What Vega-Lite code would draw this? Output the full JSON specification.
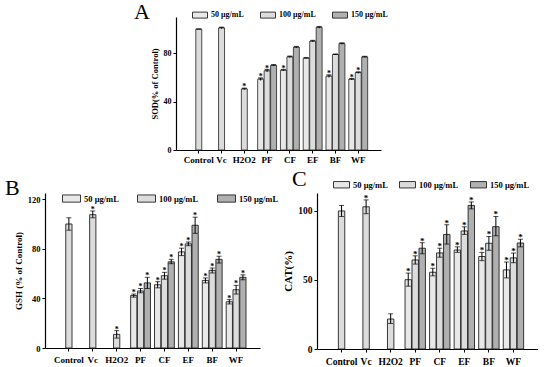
{
  "$schema": "https://vega.github.io/schema/vega-lite/v6.json",
  "padding": {"left": 5, "top": 1, "right": 0, "bottom": 0},
  "background": "white",
  "spacing": 4,
  "datasets": {
    "sod": [
      {"cat": "Control", "conc": "100 μg/mL", "v": 100, "lo": 100, "hi": 100, "s": ""},
      {"cat": "Vc", "conc": "100 μg/mL", "v": 101, "lo": 100.4, "hi": 101.4, "s": ""},
      {"cat": "H2O2", "conc": "100 μg/mL", "v": 50.5, "lo": 50, "hi": 51, "s": "*"},
      {"cat": "PF", "conc": "50 μg/mL", "v": 58.5, "lo": 57.5, "hi": 59.5, "s": "*"},
      {"cat": "PF", "conc": "100 μg/mL", "v": 65.5, "lo": 64.5, "hi": 66.5, "s": "*"},
      {"cat": "PF", "conc": "150 μg/mL", "v": 70, "lo": 69.5, "hi": 70.5, "s": ""},
      {"cat": "CF", "conc": "50 μg/mL", "v": 66, "lo": 65.5, "hi": 66.5, "s": "*"},
      {"cat": "CF", "conc": "100 μg/mL", "v": 77, "lo": 76.5, "hi": 77.5, "s": ""},
      {"cat": "CF", "conc": "150 μg/mL", "v": 85, "lo": 84.5, "hi": 85.5, "s": ""},
      {"cat": "EF", "conc": "50 μg/mL", "v": 76, "lo": 75.8, "hi": 76.2, "s": ""},
      {"cat": "EF", "conc": "100 μg/mL", "v": 90, "lo": 89.5, "hi": 90.5, "s": ""},
      {"cat": "EF", "conc": "150 μg/mL", "v": 101.5, "lo": 100.8, "hi": 102, "s": ""},
      {"cat": "BF", "conc": "50 μg/mL", "v": 61, "lo": 60, "hi": 62, "s": "*"},
      {"cat": "BF", "conc": "100 μg/mL", "v": 79, "lo": 78.8, "hi": 79.2, "s": ""},
      {"cat": "BF", "conc": "150 μg/mL", "v": 88, "lo": 87.5, "hi": 88.5, "s": ""},
      {"cat": "WF", "conc": "50 μg/mL", "v": 58.5, "lo": 58, "hi": 59, "s": "*"},
      {"cat": "WF", "conc": "100 μg/mL", "v": 64, "lo": 63.5, "hi": 64.5, "s": "*"},
      {"cat": "WF", "conc": "150 μg/mL", "v": 77, "lo": 76.7, "hi": 77.3, "s": ""}
    ],
    "gsh": [
      {"cat": "Control", "conc": "100 μg/mL", "v": 100, "lo": 95, "hi": 105, "s": ""},
      {"cat": "Vc", "conc": "100 μg/mL", "v": 107.5, "lo": 105, "hi": 110.5, "s": "*"},
      {"cat": "H2O2", "conc": "100 μg/mL", "v": 11, "lo": 8, "hi": 14, "s": "*"},
      {"cat": "PF", "conc": "50 μg/mL", "v": 42.3, "lo": 41, "hi": 43.5, "s": "*"},
      {"cat": "PF", "conc": "100 μg/mL", "v": 46, "lo": 44.5, "hi": 48, "s": "*"},
      {"cat": "PF", "conc": "150 μg/mL", "v": 52.5, "lo": 48, "hi": 57, "s": "*"},
      {"cat": "CF", "conc": "50 μg/mL", "v": 51, "lo": 48.5, "hi": 53.5, "s": "*"},
      {"cat": "CF", "conc": "100 μg/mL", "v": 58.3, "lo": 55.5, "hi": 61, "s": "*"},
      {"cat": "CF", "conc": "150 μg/mL", "v": 69.5, "lo": 68, "hi": 71.5, "s": "*"},
      {"cat": "EF", "conc": "50 μg/mL", "v": 77.5, "lo": 74.5, "hi": 80.5, "s": "*"},
      {"cat": "EF", "conc": "100 μg/mL", "v": 84, "lo": 82.5, "hi": 85.5, "s": "*"},
      {"cat": "EF", "conc": "150 μg/mL", "v": 99, "lo": 92.5, "hi": 105.5, "s": "*"},
      {"cat": "BF", "conc": "50 μg/mL", "v": 54.5, "lo": 52.5, "hi": 56.5, "s": "*"},
      {"cat": "BF", "conc": "100 μg/mL", "v": 62.6, "lo": 60.5, "hi": 64.5, "s": "*"},
      {"cat": "BF", "conc": "150 μg/mL", "v": 71.5, "lo": 68.5, "hi": 74, "s": "*"},
      {"cat": "WF", "conc": "50 μg/mL", "v": 37.3, "lo": 35.5, "hi": 39, "s": "*"},
      {"cat": "WF", "conc": "100 μg/mL", "v": 47, "lo": 43.5, "hi": 50.5, "s": "*"},
      {"cat": "WF", "conc": "150 μg/mL", "v": 57, "lo": 55, "hi": 59, "s": "*"}
    ],
    "cat": [
      {"cat": "Control", "conc": "100 μg/mL", "v": 100, "lo": 96, "hi": 104, "s": ""},
      {"cat": "Vc", "conc": "100 μg/mL", "v": 103, "lo": 98, "hi": 108, "s": "*"},
      {"cat": "H2O2", "conc": "100 μg/mL", "v": 21.7, "lo": 18.5, "hi": 25.5, "s": ""},
      {"cat": "PF", "conc": "50 μg/mL", "v": 50.2, "lo": 45.5, "hi": 55, "s": "*"},
      {"cat": "PF", "conc": "100 μg/mL", "v": 64.5, "lo": 61.5, "hi": 67.5, "s": "*"},
      {"cat": "PF", "conc": "150 μg/mL", "v": 73, "lo": 69, "hi": 77, "s": "*"},
      {"cat": "CF", "conc": "50 μg/mL", "v": 55.6, "lo": 53, "hi": 58.5, "s": "*"},
      {"cat": "CF", "conc": "100 μg/mL", "v": 69.6, "lo": 66.5, "hi": 73, "s": "*"},
      {"cat": "CF", "conc": "150 μg/mL", "v": 83, "lo": 76, "hi": 90, "s": "*"},
      {"cat": "EF", "conc": "50 μg/mL", "v": 71.7, "lo": 70, "hi": 74, "s": "*"},
      {"cat": "EF", "conc": "100 μg/mL", "v": 85.5, "lo": 83, "hi": 88.5, "s": "*"},
      {"cat": "EF", "conc": "150 μg/mL", "v": 104, "lo": 101.5, "hi": 106.5, "s": "*"},
      {"cat": "BF", "conc": "50 μg/mL", "v": 67, "lo": 64, "hi": 70, "s": "*"},
      {"cat": "BF", "conc": "100 μg/mL", "v": 76.6, "lo": 71.5, "hi": 81.5, "s": "*"},
      {"cat": "BF", "conc": "150 μg/mL", "v": 88.6, "lo": 82, "hi": 96, "s": "*"},
      {"cat": "WF", "conc": "50 μg/mL", "v": 57.3, "lo": 51.5, "hi": 63, "s": "*"},
      {"cat": "WF", "conc": "100 μg/mL", "v": 66, "lo": 62.5, "hi": 69.5, "s": "*"},
      {"cat": "WF", "conc": "150 μg/mL", "v": 76.8, "lo": 74, "hi": 79.5, "s": "*"}
    ],
    "blank": [{"t": ""}]
  },
  "resolve": {"scale": {"color": "independent", "x": "independent", "y": "independent", "xOffset": "independent"}, "legend": {"color": "independent"}},
  "vconcat": [
    {
      "spacing": 10,
      "resolve": {"scale": {"color": "independent", "x": "independent", "y": "independent", "xOffset": "independent"}, "legend": {"color": "independent"}},
      "hconcat": [
        {
          "width": 79, "height": 133,
          "data": {"name": "blank"},
          "mark": {"type": "text"},
          "encoding": {"text": {"field": "t"}}
        },
        {
          "width": 205, "height": 133,
          "title": {"text": "A", "anchor": "start", "frame": "group", "dx": -42, "dy": 21, "fontSize": 22, "font": "Liberation Serif", "fontWeight": "normal"},
          "data": {"name": "sod"},
          "encoding": {
            "x": {"field": "cat", "type": "nominal", "sort": ["Control", "Vc", "H2O2", "PF", "CF", "EF", "BF", "WF"], "scale": {"paddingInner": 0.17, "paddingOuter": 0.585}, "axis": {"title": null, "labelAngle": 0, "labelFontSize": 9}},
            "xOffset": {"field": "conc", "type": "nominal", "sort": ["50 μg/mL", "100 μg/mL", "150 μg/mL"], "scale": {"paddingInner": 0.08}}
          },
          "layer": [
            {
              "mark": {"type": "bar", "stroke": "#222222", "strokeWidth": 0.8},
              "encoding": {
                "y": {"field": "v", "type": "quantitative", "title": "SOD(% of Control)", "scale": {"domain": [0, 110], "nice": false}, "axis": {"values": [0, 20, 40, 60, 80, 100], "titleFontSize": 8.5, "labelFontSize": 8}},
                "color": {"field": "conc", "type": "nominal", "scale": {"domain": ["50 μg/mL", "100 μg/mL", "150 μg/mL"], "range": ["#e8e8e8", "#dcdcdc", "#b0b0b0"]},
                  "legend": {"orient": "none", "legendX": 16, "legendY": -10, "direction": "horizontal", "title": null, "columnPadding": 14, "labelFontSize": 8}}
              }
            },
            {
              "mark": {"type": "rule", "color": "black", "strokeWidth": 1},
              "encoding": {"y": {"field": "lo", "type": "quantitative", "title": "SOD(% of Control)"}, "y2": {"field": "hi"}}
            },
            {
              "mark": {"type": "tick", "color": "black", "size": 5, "thickness": 1.5, "orient": "horizontal"},
              "encoding": {"y": {"field": "hi", "type": "quantitative", "title": "SOD(% of Control)"}}
            },
            {
              "mark": {"type": "text", "font": "Liberation Serif", "fontSize": 8, "fontWeight": "bold", "baseline": "bottom", "dy": 3},
              "encoding": {"y": {"field": "hi", "type": "quantitative", "title": "SOD(% of Control)"}, "text": {"field": "s"}}
            }
          ]
        }
      ]
    },
    {
      "spacing": 3,
      "resolve": {"scale": {"color": "independent", "x": "independent", "y": "independent", "xOffset": "independent"}, "legend": {"color": "independent"}},
      "hconcat": [
        {
          "width": 215, "height": 155,
          "title": {"text": "B", "anchor": "start", "frame": "group", "dx": -40, "dy": 15, "fontSize": 22, "font": "Liberation Serif", "fontWeight": "normal"},
          "data": {"name": "gsh"},
          "encoding": {
            "x": {"field": "cat", "type": "nominal", "sort": ["Control", "Vc", "H2O2", "PF", "CF", "EF", "BF", "WF"], "scale": {"paddingInner": 0.17, "paddingOuter": 0.585}, "axis": {"title": null, "labelAngle": 0, "labelFontSize": 9, "labelPadding": 4}},
            "xOffset": {"field": "conc", "type": "nominal", "sort": ["50 μg/mL", "100 μg/mL", "150 μg/mL"], "scale": {"paddingInner": 0.08}}
          },
          "layer": [
            {
              "mark": {"type": "bar", "stroke": "#222222", "strokeWidth": 0.9},
              "encoding": {
                "y": {"field": "v", "type": "quantitative", "title": "GSH (% of Control)", "scale": {"domain": [0, 125], "nice": false}, "axis": {"values": [0, 20, 40, 60, 80, 100, 120], "titleFontSize": 9, "labelFontSize": 8.5}},
                "color": {"field": "conc", "type": "nominal", "scale": {"domain": ["50 μg/mL", "100 μg/mL", "150 μg/mL"], "range": ["#e8e8e8", "#dcdcdc", "#b0b0b0"]},
                  "legend": {"orient": "none", "legendX": 17, "legendY": -4, "direction": "horizontal", "title": null, "columnPadding": 16, "labelFontSize": 8.5, "symbolSize": 324}}
              }
            },
            {
              "mark": {"type": "rule", "color": "black", "strokeWidth": 1},
              "encoding": {"y": {"field": "lo", "type": "quantitative", "title": "GSH (% of Control)"}, "y2": {"field": "hi"}}
            },
            {
              "mark": {"type": "tick", "color": "black", "size": 5, "thickness": 1, "orient": "horizontal"},
              "encoding": {"y": {"field": "hi", "type": "quantitative", "title": "GSH (% of Control)"}}
            },
            {
              "mark": {"type": "tick", "color": "black", "size": 5, "thickness": 1, "orient": "horizontal"},
              "encoding": {"y": {"field": "lo", "type": "quantitative", "title": "GSH (% of Control)"}}
            },
            {
              "mark": {"type": "text", "font": "Liberation Serif", "fontSize": 8, "fontWeight": "bold", "baseline": "bottom", "dy": 3},
              "encoding": {"y": {"field": "hi", "type": "quantitative", "title": "GSH (% of Control)"}, "text": {"field": "s"}}
            }
          ]
        },
        {
          "width": 221, "height": 156,
          "title": {"text": "C", "anchor": "start", "frame": "group", "dx": -25, "dy": 19, "fontSize": 22, "font": "Liberation Serif", "fontWeight": "normal"},
          "data": {"name": "cat"},
          "encoding": {
            "x": {"field": "cat", "type": "nominal", "sort": ["Control", "Vc", "H2O2", "PF", "CF", "EF", "BF", "WF"], "scale": {"paddingInner": 0.17, "paddingOuter": 0.585}, "axis": {"title": null, "labelAngle": 0, "labelFontSize": 9.5, "labelPadding": 4}},
            "xOffset": {"field": "conc", "type": "nominal", "sort": ["50 μg/mL", "100 μg/mL", "150 μg/mL"], "scale": {"paddingInner": 0.08}}
          },
          "layer": [
            {
              "mark": {"type": "bar", "stroke": "#222222", "strokeWidth": 0.9},
              "encoding": {
                "y": {"field": "v", "type": "quantitative", "title": "CAT(%)", "scale": {"domain": [0, 113], "nice": false}, "axis": {"values": [0, 25, 50, 75, 100], "titleFontSize": 11, "labelFontSize": 9.5}},
                "color": {"field": "conc", "type": "nominal", "scale": {"domain": ["50 μg/mL", "100 μg/mL", "150 μg/mL"], "range": ["#e8e8e8", "#dcdcdc", "#b0b0b0"]},
                  "legend": {"orient": "none", "legendX": 16, "legendY": -17, "direction": "horizontal", "title": null, "columnPadding": 9, "labelFontSize": 8.5, "symbolSize": 256}}
              }
            },
            {
              "mark": {"type": "rule", "color": "black", "strokeWidth": 1},
              "encoding": {"y": {"field": "lo", "type": "quantitative", "title": "CAT(%)"}, "y2": {"field": "hi"}}
            },
            {
              "mark": {"type": "tick", "color": "black", "size": 5, "thickness": 1, "orient": "horizontal"},
              "encoding": {"y": {"field": "hi", "type": "quantitative", "title": "CAT(%)"}}
            },
            {
              "mark": {"type": "tick", "color": "black", "size": 5, "thickness": 1, "orient": "horizontal"},
              "encoding": {"y": {"field": "lo", "type": "quantitative", "title": "CAT(%)"}}
            },
            {
              "mark": {"type": "text", "font": "Liberation Serif", "fontSize": 9, "fontWeight": "bold", "baseline": "bottom", "dy": 3},
              "encoding": {"y": {"field": "hi", "type": "quantitative", "title": "CAT(%)"}, "text": {"field": "s"}}
            }
          ]
        }
      ]
    }
  ],
  "config": {
    "view": {"stroke": null},
    "font": "Liberation Serif",
    "axis": {"grid": false, "domainColor": "black", "tickColor": "black", "labelColor": "black", "titleColor": "black", "labelFont": "Liberation Serif", "titleFont": "Liberation Serif", "labelFontWeight": "bold", "titleFontWeight": "bold", "tickSize": 3, "labelPadding": 2, "domainWidth": 1.2, "tickWidth": 1},
    "axisY": {"titlePadding": 4},
    "legend": {"padding": 0, "symbolType": "M-1,-0.4H1V0.4H-1Z", "symbolSize": 225, "symbolStrokeColor": "#222222", "symbolStrokeWidth": 0.9, "symbolOpacity": 1, "labelFont": "Liberation Serif", "labelFontWeight": "bold", "labelColor": "black", "labelOffset": 3},
    "title": {"color": "black"}
  }
}
